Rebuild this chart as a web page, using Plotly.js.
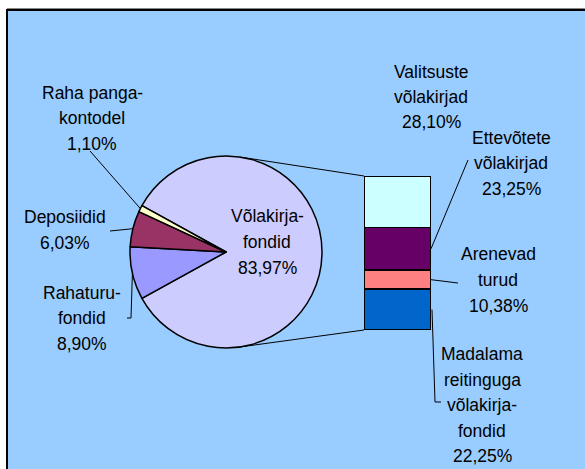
<!DOCTYPE html>
<html>
<head>
<meta charset="utf-8">
<script src="https://cdn.plot.ly/plotly-3.0.1.min.js"></script>
<style>html,body{margin:0;padding:0;background:#fff;}#chart{width:585px;height:469px;}</style>
</head>
<body>
<div id="chart"></div>
<script>
// ---- data ----
var pieLabels = ['Võlakirjafondid', 'Rahaturufondid', 'Deposiidid', 'Raha pangakontodel'];
var pieText   = ['Võlakirja-<br>fondid', 'Rahaturu-<br>fondid', 'Deposiidid', 'Raha panga-<br>kontodel'];
var pieValues = [83.97, 8.90, 6.03, 1.10];

var barLabels = ['Madalama reitinguga võlakirjafondid', 'Arenevad turud', 'Ettevõtete võlakirjad', 'Valitsuste võlakirjad'];
var barText   = ['Madalama<br>reitinguga<br>võlakirja-<br>fondid', 'Arenevad<br>turud', 'Ettevõtete<br>võlakirjad', 'Valitsuste<br>võlakirjad'];
var barValues = [22.25, 10.38, 23.25, 28.10];

// ---- styles ----
var pieColors = ['#CCCCFF', '#9999FF', '#993366', '#FFFFCC'];
var barColors = ['#0066CC', '#FF8080', '#660066', '#CCFFFF'];
var FONT = {family: 'Liberation Sans, Arial, sans-serif', size: 17.5, color: '#000'};
var LINE_H = 25.5;

var W = 585, H = 469;
function px(x) { return x / W; }
function py(y) { return 1 - y / H; }
function pct(v) { return v.toFixed(2).replace('.', ',') + '%'; }

// pie geometry
var CX = 226, CY = 252, R = 96;
var pieTotal = pieValues.reduce(function(a, b) { return a + b; }, 0);
var half = 360 * pieValues[0] / pieTotal / 2;
var rotation = 90 - half;
function pieMid(k) {
  var c = rotation;
  for (var i = 0; i < k; i++) c += 360 * pieValues[i] / pieTotal;
  c += 360 * pieValues[k] / pieTotal / 2;
  var a = c * Math.PI / 180;
  return [CX + R * Math.sin(a), CY - R * Math.cos(a)];
}

// bar geometry
var BX0 = 364, BX1 = 431, BY0 = 330, BY1 = 176;
var barTotal = barValues.reduce(function(a, b) { return a + b; }, 0);
function barY(v) { return BY0 - (BY0 - BY1) * v / barTotal; }
function barMid(k) {
  var s = 0;
  for (var i = 0; i < k; i++) s += barValues[i];
  return barY(s + barValues[k] / 2);
}

function tangent(P, upper) {
  var dx = P[0] - CX, dy = P[1] - CY;
  var d = Math.sqrt(dx * dx + dy * dy);
  var base = Math.atan2(dy, dx);
  var off = Math.acos(R / d);
  var a = upper ? base - off : base + off;
  return [CX + R * Math.cos(a), CY + R * Math.sin(a)];
}

var traces = [{
  type: 'pie',
  labels: pieLabels,
  values: pieValues,
  sort: false,
  direction: 'clockwise',
  rotation: rotation,
  textinfo: 'none',
  hoverinfo: 'label+percent',
  marker: {colors: pieColors, line: {color: '#000', width: 1.5}},
  domain: {x: [px(CX - R), px(CX + R)], y: [py(CY + R), py(CY - R)]},
  showlegend: false
}];

for (var i = 0; i < barValues.length; i++) {
  traces.push({
    type: 'bar',
    name: barLabels[i],
    x: [0],
    y: [barValues[i]],
    width: [1],
    marker: {color: barColors[i], line: {color: '#000', width: 1.5}},
    hoverinfo: 'name+y',
    showlegend: false,
    xaxis: 'x', yaxis: 'y'
  });
}

function line(p, q, layer) {
  return {type: 'line', xref: 'paper', yref: 'paper', x0: px(p[0]), y0: py(p[1]), x1: px(q[0]), y1: py(q[1]),
          line: {color: '#000', width: 1}, layer: layer || 'above'};
}
function path(pts) {
  var s = '';
  pts.forEach(function(p, i) { s += (i ? 'L' : 'M') + px(p[0]) + ',' + py(p[1]); });
  return {type: 'path', xref: 'paper', yref: 'paper', path: s, line: {color: '#000', width: 1}};
}

var topCorner = [BX0, BY1], botCorner = [BX0, BY0];
var shapes = [
  {type: 'rect', xref: 'paper', yref: 'paper', x0: px(7), y0: py(10), x1: px(600), y1: py(480),
   fillcolor: '#99CCFF', line: {color: '#000', width: 2}, layer: 'below'},
  {type: 'line', xref: 'paper', yref: 'paper', x0: px(7), y0: py(8.5), x1: px(600), y1: py(8.5),
   line: {color: '#888', width: 1}, layer: 'below'},
  line(tangent(topCorner, true), topCorner, 'below'),
  line(tangent(botCorner, false), botCorner, 'below'),
  // pie leaders
  line([90, 151], pieMid(3)),
  line([110, 231], pieMid(2)),
  path([[127, 318], [131, 318], pieMid(1)]),
  // bar leaders
  line([468, 160], [BX1, barMid(2)]),
  line([BX1, barMid(1)], [458, 283]),
  path([[BX1 + 1, barMid(0)], [435, 402], [441, 402]])
];

// each label is drawn one line per annotation so the line spacing matches the original
var annotations = [];
function label(x, yCenter, text) {
  var lines = text.split('<br>');
  var n = lines.length;
  lines.forEach(function(t, i) {
    annotations.push({xref: 'paper', yref: 'paper', x: px(x), y: py(yCenter + (i - (n - 1) / 2) * LINE_H),
      text: t, showarrow: false, xanchor: 'center', yanchor: 'middle', align: 'center', font: FONT});
  });
}
label(CX + 41, 242, pieText[0] + '<br>' + pct(pieValues[0]));
label(82, 318, pieText[1] + '<br>' + pct(pieValues[1]));
label(65, 230, pieText[2] + '<br>' + pct(pieValues[2]));
label(92, 118, pieText[3] + '<br>' + pct(pieValues[3]));
label(482, 405, barText[0] + '<br>' + pct(barValues[0]));
label(498, 280, barText[1] + '<br>' + pct(barValues[1]));
label(511, 163, barText[2] + '<br>' + pct(barValues[2]));
label(431, 97, barText[3] + '<br>' + pct(barValues[3]));

var layout = {
  width: W, height: H,
  margin: {l: 0, r: 0, t: 0, b: 0},
  paper_bgcolor: '#fff',
  plot_bgcolor: 'rgba(0,0,0,0)',
  barmode: 'stack',
  showlegend: false,
  xaxis: {domain: [px(BX0), px(BX1)], range: [-0.5, 0.5], visible: false, fixedrange: true},
  yaxis: {domain: [py(BY0), py(BY1)], range: [0, barTotal], visible: false, fixedrange: true},
  shapes: shapes,
  annotations: annotations,
  font: FONT
};

Plotly.newPlot('chart', traces, layout, {displayModeBar: false, staticPlot: true});
</script>
</body>
</html>
